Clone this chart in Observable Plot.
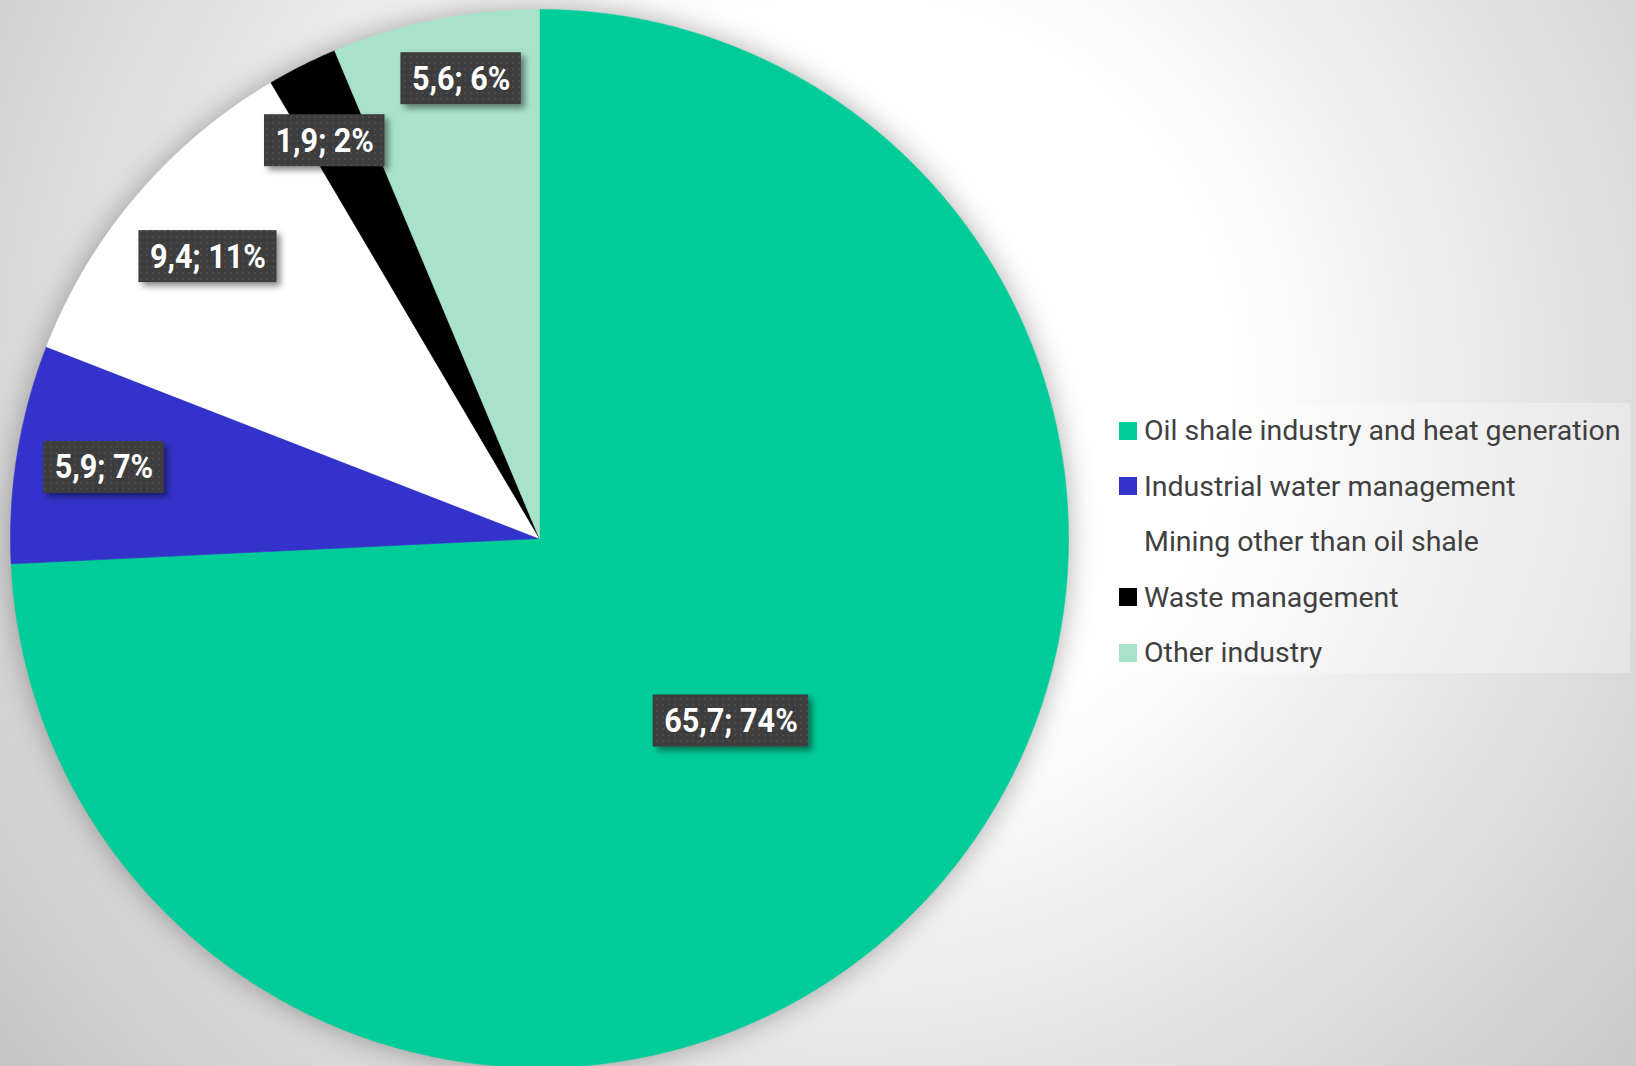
<!DOCTYPE html>
<html>
<head>
<meta charset="utf-8">
<script src="https://cdn.jsdelivr.net/npm/d3@7"></script>
<script src="https://cdn.jsdelivr.net/npm/@observablehq/plot@0.6"></script>
<style>
  html, body { margin: 0; padding: 0; }
  #chart {
    position: relative; width: 1636px; height: 1066px; overflow: hidden;
    background: radial-gradient(circle at 850px 380px, #ffffff 0px, #ffffff 380px, #e4e4e4 700px, #d4d4d4 900px, #c4c4c4 1100px);
    font-family: Roboto, "Noto Sans", sans-serif;
  }
  #chart svg { position: absolute; left: 0; top: 0; overflow: visible; }
  #legend {
    position: absolute; left: 1104px; top: 403px; width: 526px; height: 270px;
    background: rgba(255,255,255,0.3);
  }
  .item { display: flex; align-items: center; height: 55.5px; padding-left: 15px; }
  .sw { width: 18px; height: 18px; flex: none; margin-right: 7px; }
  .lbl { display: inline-block; font-size: 28.5px; color: #404040; white-space: nowrap; }
</style>
</head>
<body>
<div id="chart"><div id="legend"></div></div>
<script>
// ---- data ----
const categories = [
  "Oil shale industry and heat generation",
  "Industrial water management",
  "Mining other than oil shale",
  "Waste management",
  "Other industry"
];
const values = [65.7, 5.9, 9.4, 1.9, 5.6];
const colors = ["#00CC99", "#3333CC", "#FFFFFF", "#000000", "#A9E2CA"];

// ---- layout ----
const W = 1636, H = 1066;
const cx = 539, cy = 538, r = 529;
const labelFont = 34, condense = 0.9, padX = 11, boxH = 52;

const total = d3.sum(values);
const fmtVal = v => d3.format(".1f")(v).replace(".", ",");
const rows = categories.map((c, i) => ({cat: c, value: values[i]}));
const arcs = d3.pie().sort(null).value(d => d.value)(rows);

// slice polygons (center -> arc -> center)
const pts = [];
const step = Math.PI / 720;
arcs.forEach(a => {
  const cat = a.data.cat;
  pts.push({cat, x: 0, y: 0});
  const n = Math.max(2, Math.ceil((a.endAngle - a.startAngle) / step));
  for (let k = 0; k <= n; k++) {
    const t = a.startAngle + (a.endAngle - a.startAngle) * k / n;
    pts.push({cat, x: Math.sin(t), y: Math.cos(t)});
  }
  pts.push({cat, x: 0, y: 0});
});

// label placement: centroid for big slice, "inside end" for the others
const ctx = document.createElement("canvas").getContext("2d");
ctx.font = `bold ${labelFont}px Roboto`;
function placeAt(lab) {
  if (lab.big) { lab.d = 0.5 * r; }
  else {
    const sx = Math.sin(lab.ang), sy = -Math.cos(lab.ang);
    const ax = Math.sign(sx) * lab.hw, ay = Math.sign(sy) * lab.hh;
    const R2 = 0.955 * r;
    const b = sx * ax + sy * ay, c = ax * ax + ay * ay - R2 * R2;
    lab.d = -b + Math.sqrt(b * b - c);
  }
  lab.px = lab.d * Math.sin(lab.ang);
  lab.py = -lab.d * Math.cos(lab.ang);
}
const labs = arcs.map(a => {
  const text = `${fmtVal(a.data.value)}; ${Math.round(a.data.value / total * 100)}%`;
  const lab = {
    text, ang: (a.startAngle + a.endAngle) / 2,
    big: a.data.value / total >= 0.25,
    hw: (ctx.measureText(text).width * condense + 2 * padX) / 2, hh: boxH / 2
  };
  placeAt(lab);
  return lab;
});
// spread neighbouring labels that collide
function collide(p, q) {
  const xgap = Math.abs(p.px - q.px) - p.hw - q.hw;
  const ygap = Math.abs(p.py - q.py) - p.hh - q.hh;
  return xgap < 30 && ygap < 10;
}
for (let iter = 0; iter < 400; iter++) {
  let moved = false;
  for (let i = 0; i < labs.length; i++) {
    const p = labs[i], q = labs[(i + 1) % labs.length];
    if (p.big || q.big) continue;
    if (collide(p, q)) {
      p.ang -= 0.001; q.ang += 0.001;
      placeAt(p); placeAt(q); moved = true;
    }
  }
  if (!moved) break;
}
const labels = labs.map(l => ({text: l.text, x: l.px / r, y: -l.py / r}));

const plot = Plot.plot({
  width: W, height: H, margin: 0,
  x: {domain: [-1, 1], range: [cx - r, cx + r], axis: null},
  y: {domain: [-1, 1], range: [cy + r, cy - r], axis: null},
  color: {domain: categories, range: colors},
  style: {background: "transparent", overflow: "visible"},
  marks: [
    Plot.line(pts, {x: "x", y: "y", z: "cat", fill: "cat", stroke: "cat", strokeWidth: 0.6, curve: "linear"}),
    Plot.text(labels, {x: "x", y: "y", text: "text", fill: "white", fontSize: labelFont,
      fontWeight: "bold", fontFamily: "Roboto", textAnchor: "middle", lineAnchor: "middle"})
  ]
});
document.getElementById("chart").appendChild(plot);

// ---- decorations: pie shadow, label boxes ----
const svg = d3.select(plot);
const defs = svg.insert("defs", ":first-child");
const pat = defs.append("pattern").attr("id", "dots").attr("width", 6).attr("height", 6)
  .attr("patternUnits", "userSpaceOnUse");
pat.append("rect").attr("width", 6).attr("height", 6).attr("fill", "#3d3d3d");
pat.append("rect").attr("x", 2).attr("y", 2).attr("width", 2).attr("height", 2).attr("fill", "#4b4b4b");
const f = defs.append("filter").attr("id", "boxsh").attr("x", "-20%").attr("y", "-40%")
  .attr("width", "150%").attr("height", "190%");
f.append("feDropShadow").attr("dx", 4).attr("dy", 4).attr("stdDeviation", 3)
  .attr("flood-color", "#000").attr("flood-opacity", 0.45);

svg.select('g[aria-label="line"]').style("filter", "drop-shadow(0 0 14px rgba(0,0,0,0.32))");

const xs = plot.scale("x"), ys = plot.scale("y");
const textG = svg.select('g[aria-label="text"]');
const boxG = svg.insert("g", 'g[aria-label="text"]');
textG.selectAll("text").each(function(_, i) {
  const w0 = this.getComputedTextLength();
  const w = w0 * condense;
  this.setAttribute("textLength", w);
  this.setAttribute("lengthAdjust", "spacingAndGlyphs");
  const px = xs.apply(labels[i].x), py = ys.apply(labels[i].y);
  const bw = w + 2 * padX;
  boxG.append("rect").attr("x", px - bw / 2).attr("y", py - boxH / 2)
    .attr("width", bw).attr("height", boxH).attr("fill", "url(#dots)").attr("filter", "url(#boxsh)");
});

// ---- legend ----
const legend = d3.select("#legend");
categories.forEach((c, i) => {
  const it = legend.append("div").attr("class", "item");
  it.append("div").attr("class", "sw").style("background", colors[i]);
  it.append("span").attr("class", "lbl").text(c);
});
</script>
</body>
</html>
